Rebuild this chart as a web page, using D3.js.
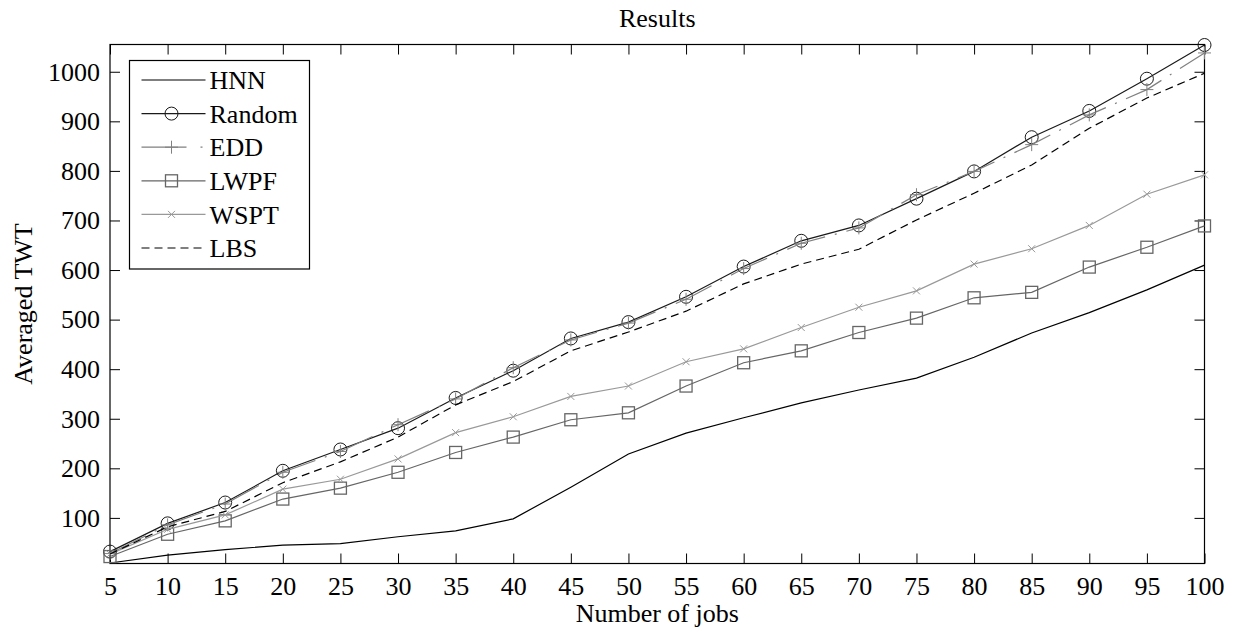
<!DOCTYPE html>
<html>
<head>
<meta charset="utf-8">
<script src="https://cdn.jsdelivr.net/npm/d3@7"></script>
<style>
	body { margin: 0; background: #fff; }
</style>
</head>
<body>
<div id="chart"></div>
<script>
// data
var jobs = [5, 10, 15, 20, 25, 30, 35, 40, 45, 50, 55, 60, 65, 70, 75, 80, 85, 90, 95, 100];
var hnn = [9, 25, 36, 45, 48, 62, 74, 98, 162, 229, 271, 302, 332, 358, 382, 424, 473, 514, 560, 610];
var random = [32, 89, 131, 195, 238, 281, 342, 397, 462, 495, 546, 607, 659, 690, 744, 799, 868, 921, 986, 1054];
var edd = [28, 86, 128, 192, 234, 288, 340, 403, 459, 493, 541, 603, 654, 685, 752, 799, 853, 913, 964, 1038];
var lwpf = [22, 67, 94, 138, 160, 192, 232, 263, 298, 312, 366, 413, 437, 474, 503, 544, 555, 606, 646, 689];
var wspt = [27, 77, 106, 158, 178, 219, 272, 304, 345, 366, 415, 441, 484, 525, 558, 612, 643, 690, 753, 792];
var lbs = [27, 82, 113, 171, 213, 263, 328, 375, 437, 475, 517, 572, 612, 642, 701, 755, 812, 886, 947, 997];
var yTicks = [100, 200, 300, 400, 500, 600, 700, 800, 900, 1000];

var series = [
	{name: 'HNN', values: hnn, color: '#000', dash: null, marker: null},
	{name: 'Random', values: random, color: '#1a1a1a', dash: null, marker: 'circle'},
	{name: 'EDD', values: edd, color: '#808080', dash: '40,10,2,10', marker: 'plus'},
	{name: 'LWPF', values: lwpf, color: '#666', dash: null, marker: 'square'},
	{name: 'WSPT', values: wspt, color: '#999', dash: null, marker: 'cross'},
	{name: 'LBS', values: lbs, color: '#000', dash: '8,5', marker: null}
];

var font = '"Liberation Serif", "Times New Roman", serif';
var fontSize = '26px';

var width = 1243, height = 632;
var margin = {top: 44.5, right: 38.5, bottom: 68.5, left: 110};
var w = width - margin.left - margin.right;
var h = height - margin.top - margin.bottom;

var svg = d3.select('#chart').append('svg')
	.attr('width', width)
	.attr('height', height);

var x = d3.scaleLinear().domain([5, 100]).range([0, w]);
var y = d3.scaleLinear().domain([8, 1055]).range([h, 0]);

var g = svg.append('g')
	.attr('transform', 'translate(' + margin.left + ',' + margin.top + ')');

// axes, MATLAB style ticks pointing inward
var axes = [
	{ax: d3.axisBottom(x).tickValues(jobs).tickSize(-10).tickPadding(13).tickFormat(d3.format('d')), t: 'translate(0,' + h + ')'},
	{ax: d3.axisTop(x).tickValues(jobs).tickSize(-10).tickFormat(''), t: null},
	{ax: d3.axisLeft(y).tickValues(yTicks).tickSize(-10).tickPadding(10).tickFormat(d3.format('d')), t: null},
	{ax: d3.axisRight(y).tickValues(yTicks).tickSize(-10).tickFormat(''), t: 'translate(' + w + ',0)'}
];
axes.forEach(function(a) {
	var ag = g.append('g').call(a.ax)
		.attr('font-family', font)
		.attr('font-size', fontSize);
	if (a.t) ag.attr('transform', a.t);
	ag.select('.domain').remove();
	ag.selectAll('.tick line').attr('stroke', '#000');
	ag.selectAll('text').attr('fill', '#000');
});

g.append('rect')
	.attr('width', w)
	.attr('height', h)
	.attr('fill', 'none')
	.attr('stroke', '#000')
	.attr('stroke-width', 1.2);

function drawMarker(sel, type, color) {
	if (type === 'circle') {
		sel.append('circle').attr('r', 6.5).attr('fill', 'none').attr('stroke', color);
	} else if (type === 'plus') {
		sel.append('path').attr('d', 'M-6.5,0H6.5M0,-6.5V6.5').attr('stroke', color);
	} else if (type === 'square') {
		sel.append('rect').attr('x', -6).attr('y', -6).attr('width', 12).attr('height', 12)
			.attr('fill', 'none').attr('stroke', color).attr('stroke-width', 1.3);
	} else if (type === 'cross') {
		sel.append('path').attr('d', 'M-3.5,-3.5L3.5,3.5M-3.5,3.5L3.5,-3.5').attr('stroke', color);
	}
}

var line = d3.line()
	.x(function(d, i) { return x(jobs[i]); })
	.y(function(d) { return y(d); });

series.forEach(function(s) {
	var p = g.append('path')
		.datum(s.values)
		.attr('fill', 'none')
		.attr('stroke', s.color)
		.attr('stroke-width', 1.2)
		.attr('d', line);
	if (s.dash) p.attr('stroke-dasharray', s.dash);
	if (s.marker) {
		g.selectAll(null)
			.data(s.values)
			.enter().append('g')
			.attr('transform', function(d, i) { return 'translate(' + x(jobs[i]) + ',' + y(d) + ')'; })
			.each(function() { drawMarker(d3.select(this), s.marker, s.color); });
	}
});

// legend
var legend = svg.append('g').attr('transform', 'translate(129.5,60.5)');
legend.append('rect')
	.attr('width', 180)
	.attr('height', 208.5)
	.attr('fill', '#fff')
	.attr('stroke', '#000')
	.attr('stroke-width', 1.2);
series.forEach(function(s, i) {
	var ly = 19.5 + i * 33.6;
	var item = legend.append('g').attr('transform', 'translate(0,' + ly + ')');
	var l = item.append('line')
		.attr('x1', 12).attr('x2', 76)
		.attr('stroke', s.color)
		.attr('stroke-width', 1.2);
	if (s.dash) l.attr('stroke-dasharray', s.dash === '8,5' ? s.dash : '45,14,2,14');
	if (s.marker) {
		var m = item.append('g').attr('transform', 'translate(42,0)');
		drawMarker(m, s.marker, s.color);
	}
	item.append('text')
		.attr('x', 80)
		.attr('dy', '0.35em')
		.attr('font-family', font)
		.attr('font-size', fontSize)
		.text(s.name);
});

// titles
svg.append('text')
	.attr('x', margin.left + w / 2)
	.attr('y', 27)
	.attr('text-anchor', 'middle')
	.attr('font-family', font)
	.attr('font-size', fontSize)
	.text('Results');

svg.append('text')
	.attr('x', margin.left + w / 2)
	.attr('y', 622)
	.attr('text-anchor', 'middle')
	.attr('font-family', font)
	.attr('font-size', fontSize)
	.text('Number of jobs');

svg.append('text')
	.attr('transform', 'translate(32,' + (margin.top + h / 2) + ') rotate(-90)')
	.attr('text-anchor', 'middle')
	.attr('font-family', font)
	.attr('font-size', fontSize)
	.text('Averaged TWT');
</script>
</body>
</html>
